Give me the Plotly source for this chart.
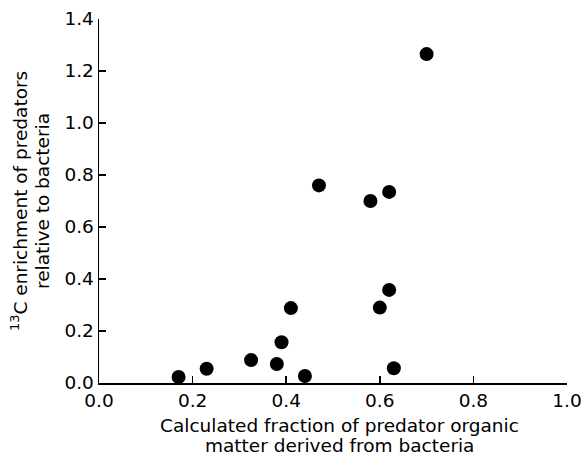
import plotly.graph_objects as go

# Data
frac_bacteria = [0.17, 0.23, 0.325, 0.38, 0.39, 0.41, 0.44, 0.47, 0.58, 0.62, 0.60, 0.62, 0.63, 0.70]
c13_enrichment = [0.023, 0.055, 0.088, 0.073, 0.157, 0.288, 0.027, 0.76, 0.70, 0.735, 0.29, 0.358, 0.057, 1.265]

x_ticks = [0.0, 0.2, 0.4, 0.6, 0.8, 1.0]
y_ticks = [0.0, 0.2, 0.4, 0.6, 0.8, 1.0, 1.2, 1.4]

x_title_lines = ["Calculated fraction of predator organic", "matter derived from bacteria"]
y_title_lines = ["<sup>13</sup>C enrichment of predators", "relative to bacteria"]

W, H = 584, 457
L, R, T, B = 99, 17, 19, 74
pw, ph = W - L - R, H - T - B

fig = go.Figure(
    go.Scatter(
        x=frac_bacteria,
        y=c13_enrichment,
        mode="markers",
        marker=dict(color="black", size=14, line=dict(width=0)),
        cliponaxis=False,
        hoverinfo="skip",
    )
)

font_family = "DejaVu Sans, Liberation Sans, Arial, sans-serif"
fs = 18.5

fig.update_layout(
    width=W,
    height=H,
    margin=dict(l=L, r=R, t=T, b=B, autoexpand=False),
    paper_bgcolor="white",
    plot_bgcolor="white",
    showlegend=False,
    font=dict(family=font_family, size=fs, color="black"),
)

axis_common = dict(
    ticks="inside",
    ticklen=7,
    tickwidth=1.5,
    tickcolor="black",
    showline=True,
    linecolor="black",
    linewidth=1.5,
    showgrid=False,
    zeroline=False,
    automargin=False,
    tickfont=dict(size=fs, family=font_family),
)

fig.update_xaxes(range=[0, 1.0], tickvals=x_ticks, ticktext=[f"{v:.1f}" for v in x_ticks], **axis_common)
fig.update_yaxes(range=[0, 1.4], tickvals=y_ticks, ticktext=[f"{v:.1f}" for v in y_ticks], **axis_common)


def px_x(p):
    return (p - L) / pw


def px_y(p):
    return (H - B - p) / ph


annotations = []
for text, ypix in zip(x_title_lines, [425, 445]):
    annotations.append(dict(
        text=text, xref="paper", yref="paper", x=px_x(339), y=px_y(ypix),
        xanchor="center", yanchor="middle", showarrow=False,
        font=dict(size=fs, family=font_family, color="black"),
    ))
for text, xpix in zip(y_title_lines, [19, 42]):
    annotations.append(dict(
        text=text, xref="paper", yref="paper", x=px_x(xpix), y=px_y(201),
        xanchor="center", yanchor="middle", showarrow=False, textangle=-90,
        font=dict(size=fs, family=font_family, color="black"),
    ))
fig.update_layout(annotations=annotations)

fig.write_html(
    "out.html",
    config={"displayModeBar": False, "staticPlot": True},
    post_script="document.body.style.margin='0px';document.body.style.overflow='hidden';",
)
